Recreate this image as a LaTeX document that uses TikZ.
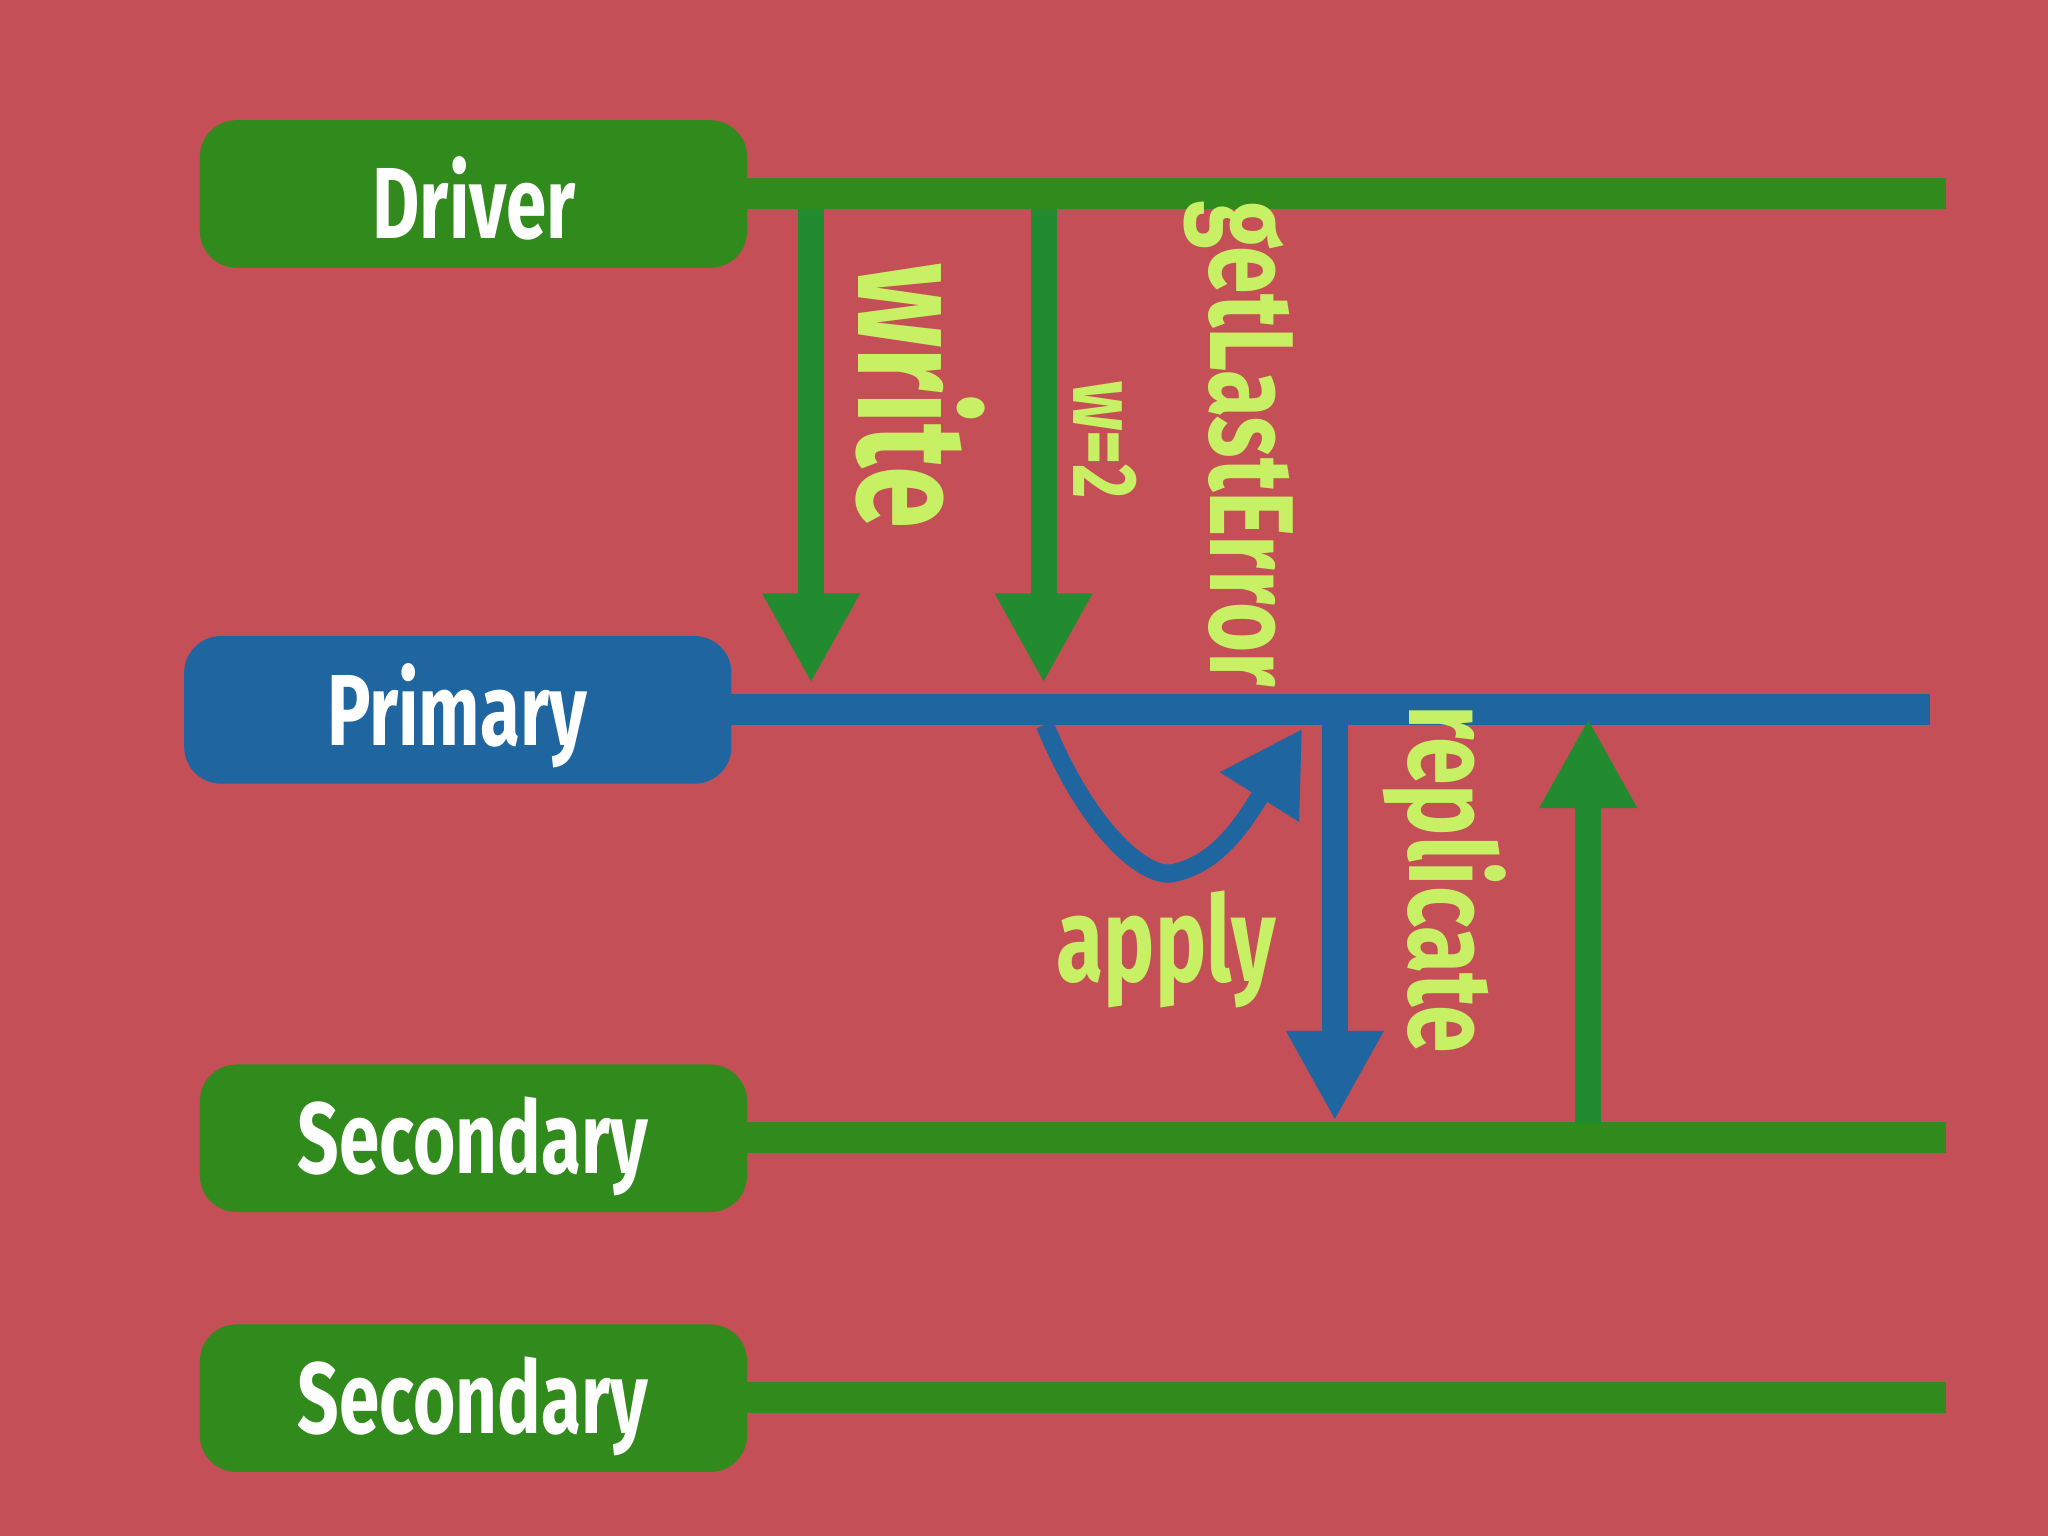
\documentclass[tikz,border=0pt]{standalone}
\usepackage{fontspec}
\setmainfont{Fira Sans}
\usetikzlibrary{arrows.meta}
\definecolor{bg}{HTML}{C44F57}
\definecolor{boxg}{HTML}{318A1C}
\definecolor{arrg}{HTML}{228B30}
\definecolor{blu}{HTML}{1F66A0}
\definecolor{lime}{HTML}{C8F064}
\newcommand{\cnd}[1]{\scalebox{0.72}[1]{#1}}
\tikzset{
 role/.style={rounded corners=28pt*0.283, text=white, font=\bfseries\fontsize{22}{24}\selectfont, inner sep=0pt},
 lbl/.style={text=lime, font=\bfseries\fontsize{26}{28}\selectfont, inner sep=0pt},
 gline/.style={boxg, line width=24*0.283pt},
 bline/.style={blu, line width=24*0.283pt},
 garr/.style={arrg, line width=20*0.283pt, -{Triangle[width=70*0.283pt,length=69*0.283pt]}},
 barr/.style={blu, line width=20*0.283pt, -{Triangle[width=70*0.283pt,length=69*0.283pt]}},
}
\begin{document}
\begin{tikzpicture}[x=0.01cm,y=-0.01cm]
\fill[bg] (0,0) rectangle (1568,1176);
\useasboundingbox (0,0) rectangle (1568,1176);
% boxes
\fill[boxg, rounded corners=8pt] (153,92) rectangle (572,205);
\node[role] (drv) at (363,152) {\cnd{Driver}};
\fill[blu, rounded corners=8pt] (141,487) rectangle (560,600);
\node[role] (pri) at (350,548) {\cnd{Primary}};
\fill[boxg, rounded corners=8pt] (153,815) rectangle (572,928);
\node[role] (sec1) at (362,878) {\cnd{Secondary}};
\fill[boxg, rounded corners=8pt] (153,1014) rectangle (572,1127);
\node[role] (sec2) at (362,1077) {\cnd{Secondary}};
% timelines
\coordinate (d0) at (565,148); \coordinate (d1) at (1490,148);
\coordinate (p0) at (555,543); \coordinate (p1) at (1478,543);
\coordinate (s0) at (565,871); \coordinate (s1) at (1490,871);
\coordinate (t0) at (565,1070); \coordinate (t1) at (1490,1070);
\draw[gline] (d0) -- (d1);
\draw[bline] (p0) -- (p1);
\draw[gline] (s0) -- (s1);
\draw[gline] (t0) -- (t1);
% arrows
\coordinate (a1s) at (621,160); \coordinate (a1e) at (621,523);
\coordinate (a2s) at (799,160); \coordinate (a2e) at (799,523);
\draw[garr] (a1s) -- (a1e);
\draw[garr] (a2s) -- (a2e);
\coordinate (bs) at (1022,555); \coordinate (be) at (1022,858);
\draw[barr] (bs) -- (be);
\coordinate (us) at (1216,860); \coordinate (ue) at (1216,550);
\draw[garr] (us) -- (ue);
\coordinate (cs) at (800,555); \coordinate (ce) at (997,558);
\draw[blu, line width=14*0.283pt, -{Triangle[width=68*0.283pt,length=62*0.283pt]}]
  (cs) .. controls (835,640) and (880,675) .. (900,668) .. controls (935,660) and (955,625) .. (ce);
% labels
\node[lbl, font=\bfseries\fontsize{34}{36}\selectfont, rotate=-90] (lw) at (705,303) {\cnd{write}};
\node[lbl, font=\bfseries\fontsize{20}{22}\selectfont, rotate=-90] (lw2) at (846,337) {\cnd{w=2}};
\node[lbl, rotate=-90] (lg) at (948,340) {\cnd{getLastError}};
\node[lbl] (la) at (893,727) {\cnd{apply}};
\node[lbl, rotate=-90] (lr) at (1106,673) {\cnd{replicate}};
\end{tikzpicture}
\end{document}
